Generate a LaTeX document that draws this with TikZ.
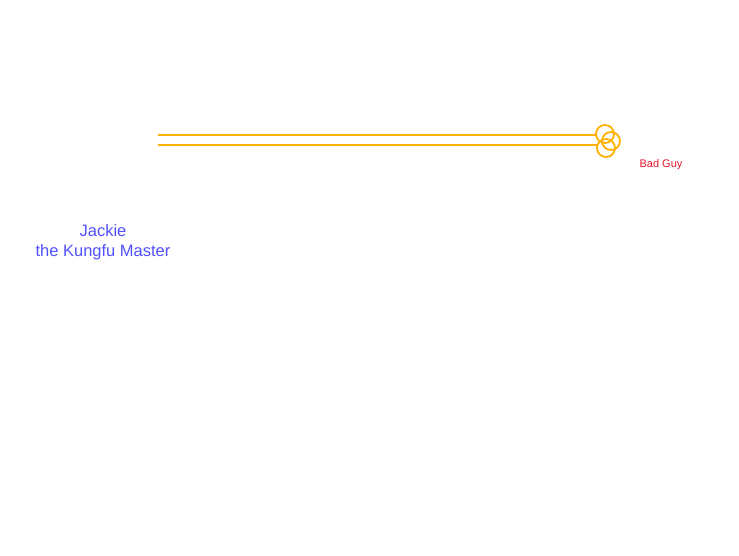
\documentclass[tikz,border=0pt]{standalone}
\usepackage{fontspec}
\setmainfont{Liberation Sans}
\definecolor{fistorange}{RGB}{255,176,0}
\definecolor{herob}{RGB}{80,80,255}
\definecolor{villr}{RGB}{230,20,40}
\begin{document}
\begin{tikzpicture}[x=1pt,y=-1pt,
  arm/.style={draw=fistorange, line width=1.8pt},
  fist/.style={draw=fistorange, line width=1.8pt},
  hero/.style={text=herob, font=\fontsize{16.5}{20}\selectfont, align=center},
  villain/.style={text=villr, font=\fontsize{11}{13}\selectfont}]
\useasboundingbox (0,0) rectangle (739,555);
\coordinate (a1) at (158,135);
\coordinate (b1) at (597,135);
\coordinate (a2) at (158,145);
\coordinate (b2) at (597,145);
\draw[arm] (a1) -- (b1);
\draw[arm] (a2) -- (b2);
\draw[fist] (605,134) circle (9);
\draw[fist] (611,141) circle (9);
\draw[fist] (606,148) circle (9);
\node[hero] (jackie) at (103,242) {Jackie\\the Kungfu Master};
\node[villain] (bad) at (661,165) {Bad Guy};
\end{tikzpicture}
\end{document}
